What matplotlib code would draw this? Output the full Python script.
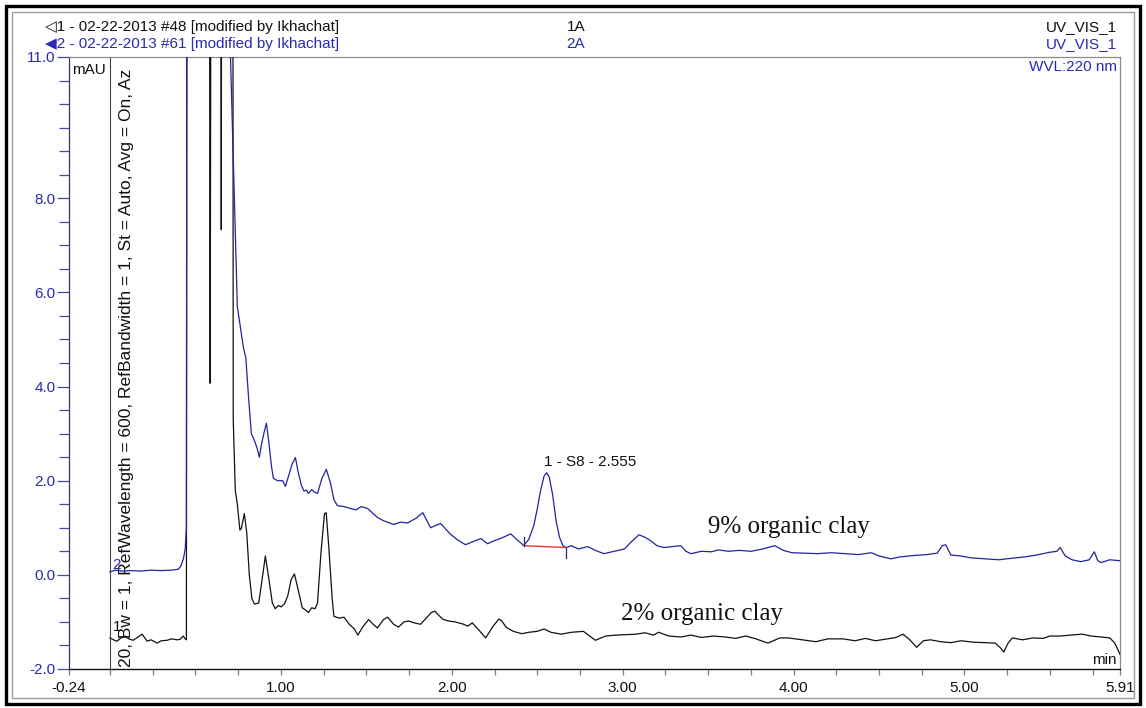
import matplotlib
matplotlib.use("Agg")
import matplotlib.pyplot as plt
from matplotlib.patches import Rectangle
from matplotlib.ticker import FixedLocator, FixedFormatter

# ---------------- data ----------------
# trace 1 : 2% organic clay (black)
t_trace1 = [0.00, 0.02, 0.041, 0.06, 0.088, 0.11, 0.135, 0.16, 0.188, 0.205, 0.217, 0.24,
            0.276, 0.30, 0.334, 0.36, 0.393, 0.41, 0.428, 0.44, 0.447, 0.452,
            0.455, 0.575, 0.586, 0.598, 0.645, 0.651, 0.657, 0.716, 0.721, 0.733,
            0.745, 0.760, 0.768, 0.786, 0.800, 0.815, 0.830, 0.845, 0.870, 0.890,
            0.909, 0.930, 0.950, 0.967, 0.985, 1.000, 1.020, 1.040, 1.060, 1.079,
            1.100, 1.125, 1.145, 1.161, 1.180, 1.200, 1.214, 1.235, 1.255, 1.265,
            1.280, 1.300, 1.310, 1.340, 1.370, 1.400, 1.430, 1.450, 1.480, 1.513,
            1.540, 1.565, 1.600, 1.624, 1.660, 1.688, 1.720, 1.747, 1.780, 1.817,
            1.850, 1.880, 1.900, 1.946, 1.980, 2.020, 2.070, 2.093, 2.120, 2.160,
            2.198, 2.240, 2.275, 2.290, 2.320, 2.360, 2.410, 2.450, 2.500, 2.540,
            2.580, 2.640, 2.700, 2.770, 2.840, 2.900, 2.960, 3.020, 3.080, 3.130,
            3.180, 3.210, 3.270, 3.340, 3.400, 3.460, 3.530, 3.600, 3.660, 3.720,
            3.780, 3.850, 3.920, 3.970, 4.050, 4.130, 4.200, 4.290, 4.360, 4.420,
            4.480, 4.550, 4.600, 4.640, 4.680, 4.720, 4.760, 4.800, 4.860, 4.920,
            4.980, 5.050, 5.120, 5.180, 5.210, 5.230, 5.255, 5.280, 5.340, 5.400,
            5.460, 5.500, 5.560, 5.620, 5.690, 5.740, 5.800, 5.850, 5.880, 5.910]
y_trace1 = [-1.34, -1.38, -1.41, -1.35, -1.30, -1.36, -1.39, -1.33, -1.26, -1.35, -1.41, -1.38,
            -1.45, -1.40, -1.39, -1.36, -1.38, -1.37, -1.30, -1.36, -1.38, 30.0,
            30.0, 30.0, 4.07, 30.0, 30.0, 7.33, 30.0, 30.0, 3.30, 1.80,
            1.50, 0.95, 0.98, 1.30, 0.90, 0.00, -0.50, -0.62, -0.60, -0.10,
            0.40, -0.10, -0.60, -0.72, -0.65, -0.68, -0.62, -0.45, -0.10, 0.02,
            -0.30, -0.70, -0.75, -0.80, -0.70, -0.72, -0.60, 0.50, 1.30, 1.32,
            0.60, -0.50, -0.88, -0.92, -0.90, -1.05, -1.15, -1.28, -1.10, -0.95,
            -1.05, -1.13, -0.95, -0.90, -1.05, -1.11, -1.00, -0.98, -1.02, -1.05,
            -0.92, -0.80, -0.77, -0.94, -0.98, -1.00, -1.05, -1.09, -1.02, -1.18,
            -1.34, -1.10, -0.94, -0.97, -1.12, -1.20, -1.25, -1.22, -1.20, -1.15,
            -1.22, -1.26, -1.22, -1.20, -1.39, -1.30, -1.28, -1.27, -1.26, -1.23,
            -1.28, -1.22, -1.30, -1.32, -1.28, -1.33, -1.30, -1.32, -1.35, -1.30,
            -1.36, -1.45, -1.34, -1.34, -1.38, -1.42, -1.36, -1.36, -1.40, -1.35,
            -1.40, -1.36, -1.33, -1.26, -1.38, -1.54, -1.40, -1.38, -1.42, -1.44,
            -1.40, -1.43, -1.44, -1.45, -1.55, -1.64, -1.45, -1.34, -1.38, -1.34,
            -1.35, -1.30, -1.30, -1.28, -1.26, -1.30, -1.32, -1.34, -1.45, -1.69]

# S8 peak on trace 2
peak_rt = 2.555
peak_height = 2.17
peak_window = [2.42, 2.67]
peak_base = [0.62, 0.58]

# trace 2 : 9% organic clay (blue)
t_trace2 = [0.00, 0.03, 0.07, 0.12, 0.18, 0.24, 0.30, 0.36, 0.40, 0.415, 0.43, 0.44,
            0.447, 0.449, 0.455, 0.695, 0.705, 0.745, 0.780, 0.795, 0.810, 0.827,
            0.845, 0.860, 0.874, 0.885, 0.900, 0.915, 0.930, 0.945, 0.956, 0.980,
            1.010, 1.026, 1.045, 1.065, 1.085, 1.100, 1.120, 1.135, 1.150, 1.161,
            1.180, 1.200, 1.214, 1.240, 1.266, 1.290, 1.310, 1.330, 1.370, 1.407,
            1.440, 1.470, 1.507, 1.540, 1.565, 1.600, 1.660, 1.700, 1.740, 1.790,
            1.830, 1.876, 1.905, 1.935, 1.990, 2.030, 2.080, 2.120, 2.170, 2.210,
            2.245, 2.290, 2.345, 2.380, 2.410, 2.420, 2.450, 2.480, 2.500, 2.520,
            2.540, peak_rt, 2.570, 2.590, 2.610, 2.630, 2.650, 2.670, 2.700, 2.740,
            2.796, 2.840, 2.890, 2.950, 3.010, 3.050, 3.095, 3.130, 3.166, 3.200,
            3.240, 3.290, 3.340, 3.370, 3.400, 3.460, 3.520, 3.560, 3.620, 3.680,
            3.750, 3.820, 3.890, 3.940, 3.990, 4.060, 4.140, 4.220, 4.300, 4.380,
            4.455, 4.500, 4.570, 4.620, 4.700, 4.780, 4.840, 4.870, 4.890, 4.920,
            4.980, 5.040, 5.120, 5.200, 5.270, 5.350, 5.420, 5.500, 5.540, 5.560,
            5.590, 5.630, 5.680, 5.730, 5.760, 5.780, 5.800, 5.850, 5.910]
y_trace2 = [0.06, 0.10, 0.08, 0.09, 0.08, 0.10, 0.09, 0.10, 0.12, 0.19, 0.35, 0.55,
            1.00, 8.57, 30.0, 30.0, 11.0, 5.70, 4.84, 4.60, 3.80, 3.00,
            2.85, 2.70, 2.50, 2.75, 3.00, 3.22, 2.80, 2.30, 2.05, 2.00,
            2.00, 1.88, 2.10, 2.35, 2.49, 2.20, 1.90, 1.78, 1.80, 1.73,
            1.81, 1.75, 1.73, 2.05, 2.24, 1.95, 1.60, 1.47, 1.45, 1.41,
            1.38, 1.45, 1.41, 1.30, 1.22, 1.15, 1.07, 1.12, 1.10, 1.20,
            1.32, 1.00, 1.05, 1.09, 0.87, 0.75, 0.64, 0.70, 0.77, 0.66,
            0.72, 0.78, 0.87, 0.75, 0.66, 0.62, 0.75, 1.05, 1.40, 1.80,
            2.10, peak_height, 2.08, 1.70, 1.15, 0.80, 0.62, 0.58, 0.62, 0.55,
            0.60, 0.52, 0.45, 0.50, 0.55, 0.70, 0.85, 0.80, 0.72, 0.62,
            0.58, 0.60, 0.62, 0.50, 0.45, 0.50, 0.49, 0.53, 0.50, 0.52,
            0.50, 0.55, 0.62, 0.52, 0.47, 0.46, 0.45, 0.47, 0.45, 0.43,
            0.47, 0.40, 0.34, 0.38, 0.41, 0.43, 0.46, 0.62, 0.64, 0.42,
            0.40, 0.36, 0.34, 0.32, 0.35, 0.38, 0.42, 0.48, 0.50, 0.58,
            0.40, 0.32, 0.28, 0.32, 0.49, 0.30, 0.26, 0.32, 0.30]

y_major = [-2.0, 0.0, 2.0, 4.0, 6.0, 8.0, 11.0]
y_minor = [-1.5, -1.0, -0.5, 0.5, 1.0, 1.5, 2.5, 3.0, 3.5, 4.5, 5.0, 5.5,
           6.5, 7.0, 7.5, 8.5, 9.0, 9.5, 10.0, 10.5]
x_major = [-0.24, 1.00, 2.00, 3.00, 4.00, 5.00, 5.91]
x_minor = [0.00, 0.25, 0.50, 0.75, 1.25, 1.50, 1.75, 2.25, 2.50, 2.75, 3.25, 3.50,
           3.75, 4.25, 4.50, 4.75, 5.25, 5.50, 5.75]

# ---------------- styling ----------------
W, H = 1146, 708
BLUE_LINE = "#23239c"
BLUE_TEXT = "#2a2ab4"
SANS = ["Liberation Sans", "DejaVu Sans"]
SERIF = ["Liberation Serif", "DejaVu Serif"]


def px(x, y):
    """pixel position (from top-left) to figure fraction"""
    return x / W, 1 - y / H


fig = plt.figure(figsize=(W / 100, H / 100), dpi=100)
fig.patch.set_facecolor("white")

# outer frames
fig.patches.append(Rectangle(px(6, 704), 1134 / W, 698 / H, transform=fig.transFigure,
                             fill=False, edgecolor="black", linewidth=2.4, zorder=0))
fig.patches.append(Rectangle(px(12, 698), 1122 / W, 686 / H, transform=fig.transFigure,
                             fill=False, edgecolor="#9a9a9a", linewidth=1.0, zorder=0))

left, top = px(69, 57)
right, bottom = px(1120, 669)
ax = fig.add_axes([left, bottom, right - left, top - bottom])
ax.set_xlim(-0.24, 5.91)
ax.set_ylim(-2.0, 11.0)

# injection marker at t = 0
ax.axvline(0.0, color="#444444", lw=0.8, zorder=1)

ax.plot(t_trace1, y_trace1, color="#111111", lw=0.9, zorder=3)
ax.plot(t_trace2, y_trace2, color=BLUE_LINE, lw=0.9, zorder=4)

# integration baseline and delimiters of the S8 peak
ax.plot(peak_window, peak_base, color="#e23a3a", lw=1.0, zorder=5)
ax.plot([peak_window[0], peak_window[0]], [peak_base[0], peak_base[0] + 0.18],
        color=BLUE_LINE, lw=0.9, zorder=5)
ax.plot([peak_window[1], peak_window[1]], [peak_base[1], peak_base[1] - 0.22],
        color=BLUE_LINE, lw=0.9, zorder=5)
ax.annotate(f"1 - S8 - {peak_rt:.3f}", xy=(peak_rt, peak_height), xytext=(-2, 3),
            textcoords="offset points", ha="left", va="bottom",
            fontsize=11, family=SANS, color="#111111")

# trace labels
ax.text(3.50, 1.02, "9% organic clay", fontsize=18, family=SERIF, color="#111111",
        ha="left", va="center")
ax.text(2.99, -0.83, "2% organic clay", fontsize=18, family=SERIF, color="#111111",
        ha="left", va="center")
ax.text(0.015, 0.2, "2", fontsize=11, family=SANS, color=BLUE_TEXT, ha="left", va="center")
ax.text(0.015, -1.1, "1", fontsize=11, family=SANS, color="#111111", ha="left", va="center")

ax.text(0.097, -1.95,
        "20, Bw = 1, RefWavelength = 600, RefBandwidth = 1, St = Auto, Avg = On, Az",
        rotation=90, fontsize=12.5, family=SANS, color="#111111",
        ha="left", va="center", rotation_mode="anchor", zorder=2)

# axes look
for side in ("top", "right"):
    ax.spines[side].set_color("#8c8c8c")
    ax.spines[side].set_linewidth(0.9)
ax.spines["left"].set_color("#33336e")
ax.spines["left"].set_linewidth(0.9)
ax.spines["bottom"].set_color("#111111")
ax.spines["bottom"].set_linewidth(1.0)

ax.yaxis.set_major_locator(FixedLocator(y_major))
ax.yaxis.set_major_formatter(FixedFormatter([f"{v:.1f}" for v in y_major]))
ax.yaxis.set_minor_locator(FixedLocator(y_minor))
ax.xaxis.set_major_locator(FixedLocator(x_major))
ax.xaxis.set_major_formatter(FixedFormatter([f"{v:.2f}" for v in x_major]))
ax.xaxis.set_minor_locator(FixedLocator(x_minor))

ax.tick_params(axis="y", which="both", direction="out", color="#4a4a9a", width=0.9,
               labelcolor=BLUE_TEXT, labelsize=11, pad=1)
ax.tick_params(axis="y", which="major", length=8.5)
ax.tick_params(axis="y", which="minor", length=7.5)
ax.tick_params(axis="x", which="both", direction="out", color="#808080", width=0.9,
               length=4, labelcolor="#111111", labelsize=11, pad=5)
for lab in ax.get_xticklabels() + ax.get_yticklabels():
    lab.set_family(SANS)

# header
fig.text(*px(45, 27), "◁1 - 02-22-2013 #48 [modified by Ikhachat]", fontsize=11,
         family=SANS, color="#111111", ha="left", va="center")
fig.text(*px(45, 44), "◀2 - 02-22-2013 #61 [modified by Ikhachat]", fontsize=11,
         family=SANS, color=BLUE_TEXT, ha="left", va="center")
fig.text(*px(576, 27), "1A", fontsize=11, family=SANS, color="#111111",
         ha="center", va="center")
fig.text(*px(576, 44), "2A", fontsize=11, family=SANS, color=BLUE_TEXT,
         ha="center", va="center")
fig.text(*px(1117, 27), "UV_VIS_1", fontsize=11, family=SANS, color="#111111",
         ha="right", va="center")
fig.text(*px(1117, 44), "UV_VIS_1", fontsize=11, family=SANS, color=BLUE_TEXT,
         ha="right", va="center")
fig.text(*px(1117, 67), "WVL:220 nm", fontsize=11, family=SANS, color=BLUE_TEXT,
         ha="right", va="center")
fig.text(*px(72, 70), "mAU", fontsize=11, family=SANS, color="#111111",
         ha="left", va="center")
fig.text(*px(1117, 660), "min", fontsize=11, family=SANS, color="#111111",
         ha="right", va="center")

fig.savefig("out.png", dpi=100)
